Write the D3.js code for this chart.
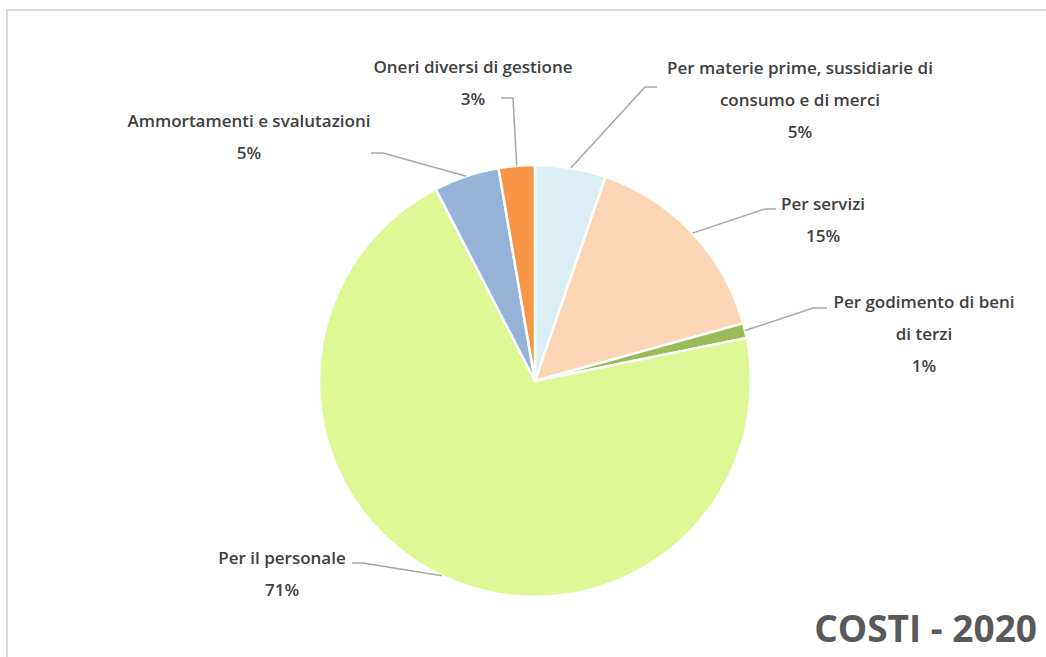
<!DOCTYPE html>
<html>
<head>
<meta charset="utf-8">
<script src="https://cdn.jsdelivr.net/npm/d3@7"></script>
<style>
  html, body { margin: 0; padding: 0; background: #fff; }
  svg { display: block; }
  text { font-family: "Open Sans", "Noto Sans", sans-serif; }
</style>
</head>
<body>
<svg id="chart" width="1046" height="657"></svg>
<script>
// ---- data ----
const categories = [
  "Per materie prime, sussidiarie di consumo e di merci",
  "Per servizi",
  "Per godimento di beni di terzi",
  "Per il personale",
  "Ammortamenti e svalutazioni",
  "Oneri diversi di gestione"
];
const values = [5.3, 15.4, 1.1, 70.6, 4.9, 2.7];
const labelLines = [
  ["Per materie prime, sussidiarie di", "consumo e di merci"],
  ["Per servizi"],
  ["Per godimento di beni", "di terzi"],
  ["Per il personale"],
  ["Ammortamenti e svalutazioni"],
  ["Oneri diversi di gestione"]
];
const colors = ["#DAEEF3", "#FCD5B5", "#9BBB59", "#DFF794", "#95B3D7", "#F79646"];
const title = "COSTI - 2020";

// ---- layout (positions, not data) ----
const W = 1046, H = 657;
const cx = 535, cy = 381, R = 216;
const lineH = 32;
// label block: centre x, first line y, leader elbow point [x,y], leader end x
const labelLayout = [
  { x: 800, y: 68,  elbow: [645, 87],  end: 657 },
  { x: 823, y: 204, elbow: [765, 209], end: 776 },
  { x: 924, y: 302, elbow: [813, 308], end: 827 },
  { x: 282, y: 558, elbow: [363, 563], end: 352 },
  { x: 249, y: 121, elbow: [383, 153], end: 371 },
  { x: 473, y: 67,  elbow: [513, 98],  end: 501 }
];

const svg = d3.select("#chart");

// chart border
svg.append("rect")
  .attr("x", 7).attr("y", 10)
  .attr("width", W + 20).attr("height", H + 20)
  .attr("fill", "#fff")
  .attr("stroke", "#D9D9D9").attr("stroke-width", 2);

const total = d3.sum(values);
const pie = d3.pie().sort(null).value(d => d)(values);
const arc = d3.arc().innerRadius(0).outerRadius(R);

const g = svg.append("g").attr("transform", `translate(${cx},${cy})`);
g.selectAll("path.slice")
  .data(pie)
  .join("path")
  .attr("class", "slice")
  .attr("d", arc)
  .attr("fill", (d, i) => colors[i])
  .attr("stroke", "#fff")
  .attr("stroke-width", 2.5)
  .attr("stroke-linejoin", "round");

// leader lines
const leaders = svg.append("g");
pie.forEach((d, i) => {
  const mid = (d.startAngle + d.endAngle) / 2;
  const sx = cx + R * Math.sin(mid);
  const sy = cy - R * Math.cos(mid);
  const L = labelLayout[i];
  leaders.append("polyline")
    .attr("points", `${sx},${sy} ${L.elbow[0]},${L.elbow[1]} ${L.end},${L.elbow[1]}`)
    .attr("fill", "none")
    .attr("stroke", "#A6A6A6")
    .attr("stroke-width", 1.5);
});

// labels
const fmt = v => Math.round(v / total * 100) + "%";
const labels = svg.append("g")
  .attr("fill", "#404040")
  .attr("font-size", 17)
  .attr("font-weight", 600)
  .attr("text-anchor", "middle");
pie.forEach((d, i) => {
  const L = labelLayout[i];
  const lines = labelLines[i].concat([fmt(values[i])]);
  const t = labels.append("text");
  lines.forEach((ln, k) => {
    t.append("tspan")
      .attr("x", L.x)
      .attr("y", L.y + k * lineH)
      .attr("dy", "0.35em")
      .text(ln);
  });
});

// title
svg.append("text")
  .attr("x", 1037).attr("y", 642)
  .attr("text-anchor", "end")
  .attr("font-size", 37)
  .attr("font-weight", "bold")
  .attr("fill", "#595959")
  .text(title);
</script>
</body>
</html>
